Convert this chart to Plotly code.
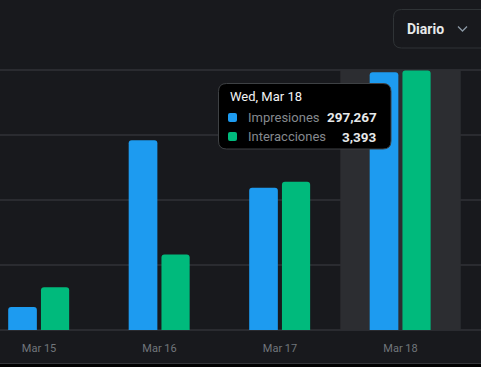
import plotly.graph_objects as go

categories = ["Mar 15", "Mar 16", "Mar 17", "Mar 18"]
impresiones = [26500, 219000, 164200, 297267]
interacciones = [558, 987, 1939, 3393]
series_names = ["Impresiones", "Interacciones"]
tooltip_title = "Wed, Mar 18"
tooltip_index = 3
dropdown_label = "Diario"

W, H = 481, 367
ML, MR, MT, MB = 0, 0, 60, 37
PH = H - MT - MB

BG = "#18191d"
BLUE = "#1d9bf0"
GREEN = "#00ba7c"
GRID = "#2a2b30"
MUTED = "#71767b"
FONT = "Roboto, Inter, Arial, sans-serif"


def px(x):
    return (x - ML) / (W - ML - MR)


def py(y):
    return (H - MB - y) / PH


def rounded_rect(x0, y0, x1, y1, r):
    X0, X1 = px(x0), px(x1)
    Y0, Y1 = py(y0), py(y1)
    rx = r / (W - ML - MR)
    ry = r / PH
    return (f"M {X0+rx},{Y0} L {X1-rx},{Y0} Q {X1},{Y0} {X1},{Y0-ry} "
            f"L {X1},{Y1+ry} Q {X1},{Y1} {X1-rx},{Y1} L {X0+rx},{Y1} "
            f"Q {X0},{Y1} {X0},{Y1+ry} L {X0},{Y0-ry} Q {X0},{Y0} {X0+rx},{Y0} Z")


fig = go.Figure()
fig.add_trace(go.Bar(x=categories, y=impresiones, name=series_names[0],
                     marker=dict(color=BLUE, line=dict(width=0)),
                     width=0.238, offset=-0.256, yaxis="y", hoverinfo="skip"))
fig.add_trace(go.Bar(x=categories, y=interacciones, name=series_names[1],
                     marker=dict(color=GREEN, line=dict(width=0)),
                     width=0.234, offset=0.016, yaxis="y2", hoverinfo="skip"))

y1max = 300000
y2max = 3400
ext = PH / 260.0

shapes = [
    dict(type="rect", xref="x", yref="y", x0=tooltip_index - 0.5, x1=tooltip_index + 0.5,
         y0=0, y1=y1max, fillcolor="#2c2d31", line=dict(width=0), layer="between"),
    dict(type="rect", xref="paper", yref="paper", x0=0, x1=1, y0=py(367), y1=py(364),
         fillcolor="#000000", line=dict(width=0)),
    dict(type="line", xref="paper", yref="paper", x0=0, x1=1, y0=py(363.5), y1=py(363.5),
         line=dict(color="#34363a", width=1)),
    dict(type="path", xref="paper", yref="paper", path=rounded_rect(393.5, 9.5, 490, 48, 8),
         fillcolor=BG, line=dict(color="#2f3336", width=1)),
    dict(type="path", xref="paper", yref="paper",
         path=f"M {px(458)},{py(26.5)} L {px(462.5)},{py(31)} L {px(467)},{py(26.5)}",
         line=dict(color="#8b98a5", width=1.3)),
    dict(type="path", xref="paper", yref="paper", path=rounded_rect(218.5, 83.5, 391, 149, 8),
         fillcolor="#000000", line=dict(color="#3e4144", width=1)),
    dict(type="path", xref="paper", yref="paper", path=rounded_rect(228, 113, 237, 122, 2),
         fillcolor=BLUE, line=dict(width=0)),
    dict(type="path", xref="paper", yref="paper", path=rounded_rect(228, 132, 237, 141, 2),
         fillcolor=GREEN, line=dict(width=0)),
]

annotations = [
    dict(text=f"<b>{dropdown_label}</b>", x=px(405), y=py(29), xref="paper", yref="paper",
         xanchor="left", yanchor="middle", showarrow=False,
         font=dict(family=FONT, size=14, color="#e7e9ea")),
    dict(text=tooltip_title, x=px(228), y=py(96), xref="paper", yref="paper",
         xanchor="left", yanchor="middle", showarrow=False,
         font=dict(family=FONT, size=13, color="#f2f3f4")),
    dict(text=series_names[0], x=px(246), y=py(117.5), xref="paper", yref="paper",
         xanchor="left", yanchor="middle", showarrow=False,
         font=dict(family=FONT, size=13, color="#85898e")),
    dict(text=series_names[1], x=px(246), y=py(136.5), xref="paper", yref="paper",
         xanchor="left", yanchor="middle", showarrow=False,
         font=dict(family=FONT, size=13, color="#85898e")),
    dict(text=f"<b>{impresiones[tooltip_index]:,}</b>", x=px(379), y=py(117.5), xref="paper", yref="paper",
         xanchor="right", yanchor="middle", showarrow=False,
         font=dict(family=FONT, size=13.5, color="#e7e9ea")),
    dict(text=f"<b>{interacciones[tooltip_index]:,}</b>", x=px(379), y=py(136.5), xref="paper", yref="paper",
         xanchor="right", yanchor="middle", showarrow=False,
         font=dict(family=FONT, size=13.5, color="#e7e9ea")),
]

fig.update_layout(
    width=W, height=H,
    margin=dict(l=ML, r=MR, t=MT, b=MB, pad=0),
    paper_bgcolor=BG, plot_bgcolor=BG,
    showlegend=False,
    barcornerradius=3,
    xaxis=dict(type="category", range=[-0.324, 3.668], showgrid=False, zeroline=False,
               showline=False, ticks="", tickfont=dict(family=FONT, size=11, color=MUTED),
               ticklabelstandoff=10, fixedrange=True),
    yaxis=dict(range=[0, y1max * ext], dtick=75000, tick0=0, showgrid=True, gridcolor=GRID,
               gridwidth=2, zeroline=True, zerolinecolor=GRID, zerolinewidth=2,
               showticklabels=False, ticks="", fixedrange=True),
    yaxis2=dict(range=[0, y2max * ext], overlaying="y", side="right", showgrid=False,
                zeroline=False, showticklabels=False, ticks="", fixedrange=True),
    shapes=shapes,
    annotations=annotations,
    hovermode=False,
)

fig.write_html("out.html", config={"displayModeBar": False},
               post_script="document.body.style.margin='0';document.body.style.background='#000';")
